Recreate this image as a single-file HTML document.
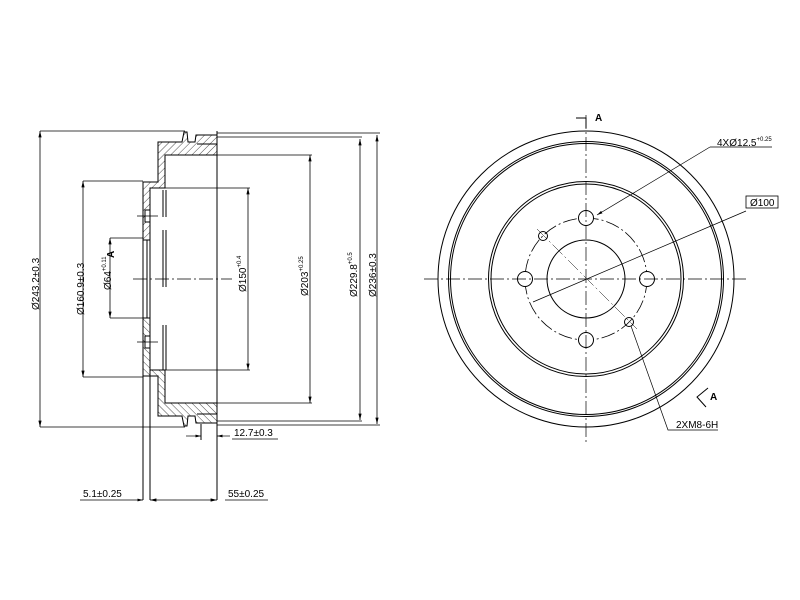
<!DOCTYPE html>
<html><head><style>body{margin:0;background:#fff}svg{display:block}text{font-family:"Liberation Sans",sans-serif;font-size:10px;fill:#000}</style></head><body>
<svg width="800" height="600" viewBox="0 0 800 600" xmlns="http://www.w3.org/2000/svg">
<defs>
<pattern id="h" width="5" height="5" patternUnits="userSpaceOnUse" patternTransform="rotate(45)"><line x1="0" y1="0" x2="0" y2="5" stroke="#000" stroke-width="0.7"/></pattern>
<marker id="a" markerWidth="8" markerHeight="6" refX="8" refY="3" orient="auto"><path d="M0,1 L8,3 L0,5" fill="#000"/></marker>
<marker id="s" markerWidth="8" markerHeight="6" refX="0" refY="3" orient="auto"><path d="M8,1 L0,3 L8,5" fill="#000"/></marker>
</defs>
<g stroke="#000" fill="none" stroke-width="1">
<path d="M158,142 L182,142 L184,132 L187,132 L188,142 L195,142 L196,135 L217,135 L217,155 L165,155 L165,188 L150,188 L150,240 L143,240 L143,182 L158,182 Z" fill="url(#h)"/>
<g transform="translate(0,558) scale(1,-1)"><path d="M158,142 L182,142 L184,132 L187,132 L188,142 L195,142 L196,135 L217,135 L217,155 L165,155 L165,188 L150,188 L150,240 L143,240 L143,182 L158,182 Z" fill="url(#h)"/></g>
<path d="M143,240 L143,318 M147,240 L147,318 M150,240 L150,318"/>
<rect x="145" y="210" width="5" height="12" fill="#fff"/><rect x="145" y="336" width="5" height="12" fill="#fff"/>
<path d="M137,216 L158,216 M137,342 L158,342" stroke-width="0.7"/>
<path d="M197,144 h20 v12 M197,414 h20 v-12" />
<path d="M217,131 V500 M143,318 V500 M150,318 V500 M201,424 V440"/>
<path d="M163,190 V217 M163,230 V287 M163,325 V370 M166,190 V217 M166,230 V287 M166,325 V370" stroke-width="1"/>
<path d="M133,279 H232" stroke-dasharray="14,3,2,3" stroke-width="0.7"/>
<path d="M40,131 H185 M40,427 H185 M83,181 H143 M83,377 H143 M110,238 H143 M110,318 H143 M165,188 H250 M165,370 H250 M217,155 H312 M217,403 H312 M217,137 H362 M217,421 H362 M217,133 H380 M217,425 H380" stroke-width="0.7"/>
<g stroke-width="0.8" marker-start="url(#s)" marker-end="url(#a)">
<path d="M40,131 V427"/><path d="M83,181 V377"/><path d="M110,238 V318"/><path d="M248,188 V370"/><path d="M310,155 V403"/><path d="M360,139 V420"/><path d="M377,135 V424"/>
<path d="M150,500 H217"/>
</g>
<path d="M186,436 H201" marker-end="url(#a)" stroke-width="0.7"/>
<path d="M230,436 H217" marker-end="url(#a)" stroke-width="0.7"/>
<path d="M232,439 H278" stroke-width="0.7"/>
<path d="M80,500 H143" marker-end="url(#a)" stroke-width="0.7"/>
<path d="M225,500 H268" stroke-width="0.7"/>
</g>
<text x="234" y="436">12.7±0.3</text>
<text x="83" y="497">5.1±0.25</text>
<text x="228" y="497">55±0.25</text>
<text transform="translate(39,310) rotate(-90)">Ø243.2±0.3</text>
<text transform="translate(84,315) rotate(-90)">Ø160.9±0.3</text>
<text transform="translate(111,290) rotate(-90)">Ø64<tspan font-size="6" dy="-5">+0.11</tspan></text>
<text transform="translate(114,258) rotate(-90)" font-weight="bold">A</text>
<text transform="translate(246,292) rotate(-90)">Ø150<tspan font-size="6" dy="-5">+0.4</tspan></text>
<text transform="translate(308,296) rotate(-90)">Ø203<tspan font-size="6" dy="-5">+0.25</tspan></text>
<text transform="translate(357,297) rotate(-90)">Ø229.8<tspan font-size="6" dy="-5">+0.5</tspan></text>
<text transform="translate(376,297) rotate(-90)">Ø236±0.3</text>
<g stroke="#000" fill="none" stroke-width="1">
<circle cx="586" cy="279" r="148"/>
<circle cx="586" cy="279" r="137.5"/>
<circle cx="586" cy="279" r="135.5"/>
<circle cx="586" cy="279" r="97.5"/>
<circle cx="586" cy="279" r="95"/>
<circle cx="586" cy="279" r="39"/>
<circle cx="586" cy="279" r="61" stroke-dasharray="14,3,2,3" stroke-width="0.8"/>
<circle cx="586" cy="218" r="7.5" fill="#fff"/>
<circle cx="586" cy="340" r="7.5" fill="#fff"/>
<circle cx="525" cy="279" r="7.5" fill="#fff"/>
<circle cx="647" cy="279" r="7.5" fill="#fff"/>
<circle cx="543" cy="236" r="4.5"/>
<circle cx="629" cy="322" r="4.5"/>
<path d="M424,279 H748 M586,115 V445" stroke-dasharray="14,3,2,3" stroke-width="0.7"/>
<path d="M537,229 L637,329" stroke-dasharray="14,3,2,3" stroke-width="0.5"/>
<path d="M576,118 H586 V128 M708,388 L697,397 L706,407" stroke-width="1"/>
<path d="M710,147 H772 M710,147 L597,215" marker-end="url(#a)" stroke-width="0.7"/>
<path d="M746,211 L533,302" stroke-width="0.7"/>
<rect x="746" y="196" width="32" height="12" stroke-width="0.8"/>
<path d="M718,430 H668 L631,326" stroke-width="0.7"/>
</g>
<text x="595" y="121" font-weight="bold">A</text>
<text x="710" y="400" font-weight="bold">A</text>
<text x="717" y="146" font-size="9">4XØ12.5<tspan font-size="6" dy="-5">+0.25</tspan></text>
<text x="750" y="206" font-size="9">Ø100</text>
<text x="676" y="428" font-size="9">2XM8-6H</text>
</svg>
</body></html>
